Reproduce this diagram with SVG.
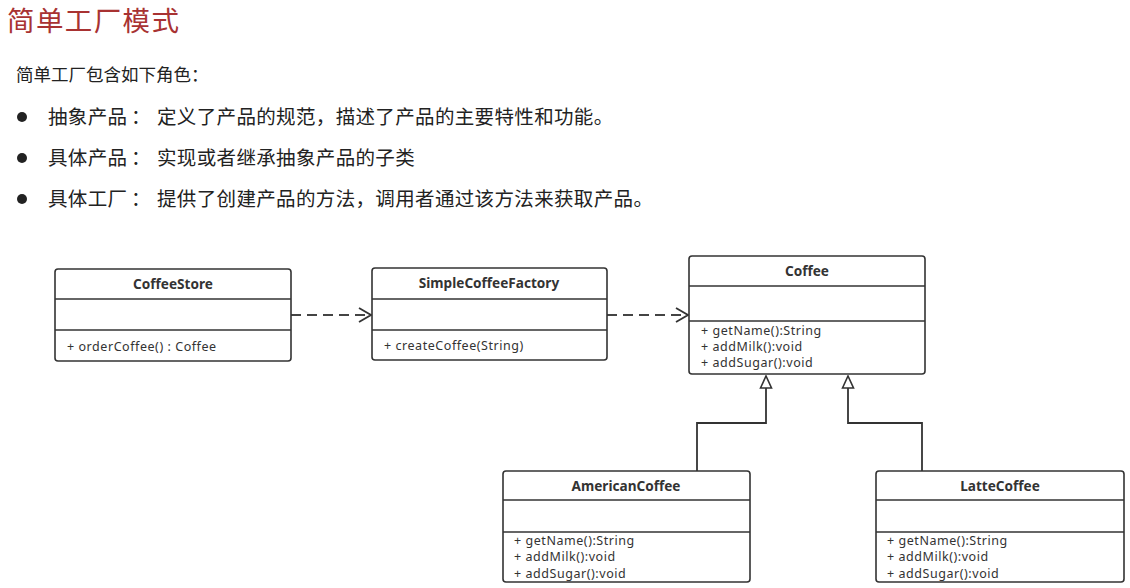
<svg xmlns="http://www.w3.org/2000/svg" width="1130" height="588" viewBox="0 0 1130 588">
<style>
.title{font-family:"Noto Sans CJK SC","Noto Sans",sans-serif;font-size:27.5px;letter-spacing:1.4px;fill:#a83232}
.body{font-family:"Noto Sans CJK SC","Noto Sans",sans-serif;font-size:17.5px;fill:#222}
.b{font-family:"Noto Sans CJK SC","Noto Sans",sans-serif;font-size:19.5px;letter-spacing:0.35px;fill:#222}
.box{fill:#fff;stroke:#333;stroke-width:1.6}
.div{stroke:#333;stroke-width:1.4}
.name{font-family:"Noto Sans","Liberation Sans",sans-serif;font-size:13.6px;font-weight:bold;fill:#333;text-anchor:middle}
.m{font-family:"Noto Sans","Liberation Sans",sans-serif;font-size:12.5px;letter-spacing:0.55px;fill:#333}
.dash{fill:none;stroke:#444;stroke-width:2;stroke-dasharray:10,6}
.solid{fill:none;stroke:#333;stroke-width:1.8}
</style>
<defs>
<marker id="open" markerWidth="14" markerHeight="16" refX="13" refY="8" orient="auto" markerUnits="userSpaceOnUse">
<path d="M1,1 L13,8 L1,15" fill="none" stroke="#333" stroke-width="1.8"/>
</marker>
<marker id="tri" markerWidth="14" markerHeight="16" refX="13" refY="7" orient="auto" markerUnits="userSpaceOnUse">
<path d="M1,1.5 L13,7 L1,12.5 Z" fill="#fff" stroke="#333" stroke-width="1.6"/>
</marker>
</defs>
<g id="text">
<text class="title" x="7" y="31">简单工厂模式</text>
<text class="body" x="16" y="81">简单工厂包含如下角色：</text>
<circle cx="22" cy="117" r="5" fill="#222"/>
<text class="b" x="48" y="124">抽象产品</text>
<text class="b" x="131" y="124">：</text>
<text class="b" x="157" y="124">定义了产品的规范，描述了产品的主要特性和功能。</text>
<circle cx="22" cy="158" r="5" fill="#222"/>
<text class="b" x="48" y="165">具体产品</text>
<text class="b" x="131" y="165">：</text>
<text class="b" x="157" y="165">实现或者继承抽象产品的子类</text>
<circle cx="22" cy="199" r="5" fill="#222"/>
<text class="b" x="48" y="206">具体工厂</text>
<text class="b" x="131" y="206">：</text>
<text class="b" x="157" y="206">提供了创建产品的方法，调用者通过该方法来获取产品。</text>
</g>
<g id="connectors">
<line class="dash" x1="291" y1="315" x2="371" y2="315" marker-end="url(#open)"/>
<line class="dash" x1="607" y1="315" x2="688" y2="315" marker-end="url(#open)"/>
<polyline class="solid" points="697,471 697,423 766,423 766,376" marker-end="url(#tri)"/>
<polyline class="solid" points="922,471 922,423 848,423 848,376" marker-end="url(#tri)"/>
</g>
<g id="CoffeeStore">
<rect class="box" x="55" y="269" width="236" height="92" rx="3"/>
<line class="div" x1="55" y1="299" x2="291" y2="299"/>
<line class="div" x1="55" y1="330" x2="291" y2="330"/>
<text class="name" x="173" y="289">CoffeeStore</text>
<text class="m" x="67" y="351">+ orderCoffee() : Coffee</text>
</g>
<g id="SimpleCoffeeFactory">
<rect class="box" x="372" y="268" width="235" height="92" rx="3"/>
<line class="div" x1="372" y1="299" x2="607" y2="299"/>
<line class="div" x1="372" y1="330" x2="607" y2="330"/>
<text class="name" x="489" y="288">SimpleCoffeeFactory</text>
<text class="m" x="384" y="350">+ createCoffee(String)</text>
</g>
<g id="Coffee">
<rect class="box" x="689" y="256" width="236" height="118" rx="3"/>
<line class="div" x1="689" y1="286" x2="925" y2="286"/>
<line class="div" x1="689" y1="321" x2="925" y2="321"/>
<text class="name" x="807" y="276">Coffee</text>
<text class="m" x="701" y="335">+ getName():String</text>
<text class="m" x="701" y="351">+ addMilk():void</text>
<text class="m" x="701" y="367">+ addSugar():void</text>
</g>
<g id="AmericanCoffee">
<rect class="box" x="503" y="471" width="247" height="111" rx="3"/>
<line class="div" x1="503" y1="500" x2="750" y2="500"/>
<line class="div" x1="503" y1="532" x2="750" y2="532"/>
<text class="name" x="626" y="491">AmericanCoffee</text>
<text class="m" x="514" y="545">+ getName():String</text>
<text class="m" x="514" y="561">+ addMilk():void</text>
<text class="m" x="514" y="578">+ addSugar():void</text>
</g>
<g id="LatteCoffee">
<rect class="box" x="876" y="471" width="248" height="111" rx="3"/>
<line class="div" x1="876" y1="500" x2="1124" y2="500"/>
<line class="div" x1="876" y1="532" x2="1124" y2="532"/>
<text class="name" x="1000" y="491">LatteCoffee</text>
<text class="m" x="887" y="545">+ getName():String</text>
<text class="m" x="887" y="561">+ addMilk():void</text>
<text class="m" x="887" y="578">+ addSugar():void</text>
</g>
</svg>
